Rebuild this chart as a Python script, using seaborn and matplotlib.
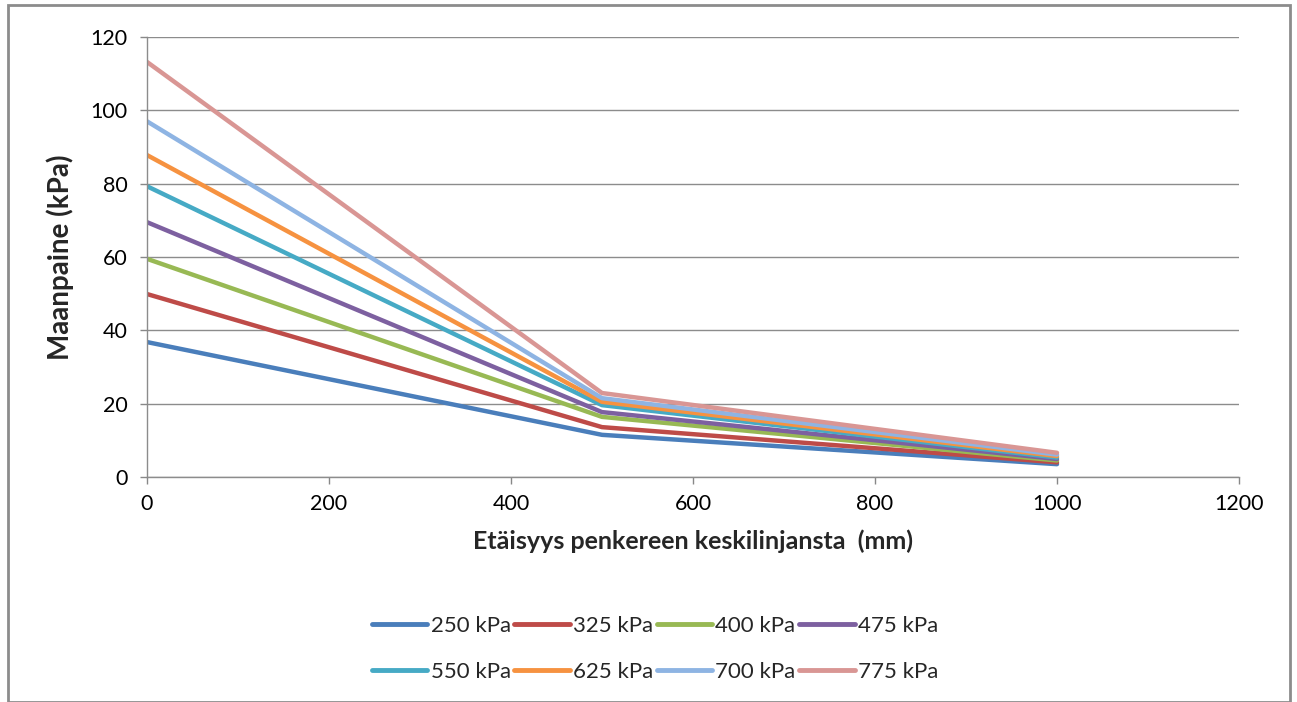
import matplotlib
matplotlib.use("Agg")
import matplotlib.pyplot as plt
import seaborn as sns
import pandas as pd
from matplotlib.patches import Rectangle

distance_mm = [0, 500, 1000]
series_labels = ["250 kPa", "325 kPa", "400 kPa", "475 kPa",
                 "550 kPa", "625 kPa", "700 kPa", "775 kPa"]
p250 = [36.8, 11.5, 3.5]
p325 = [49.9, 13.6, 4.0]
p400 = [59.5, 16.4, 4.5]
p475 = [69.5, 17.7, 4.9]
p550 = [79.3, 19.6, 5.3]
p625 = [87.8, 20.5, 5.7]
p700 = [97.0, 21.5, 6.1]
p775 = [113.2, 22.9, 6.6]
series_values = [p250, p325, p400, p475, p550, p625, p700, p775]
colors = ["#4A7EBB", "#BE4B48", "#98B954", "#7D60A0",
          "#46AAC5", "#F69240", "#8EB4E3", "#D99694"]

rows = []
for lab, vals in zip(series_labels, series_values):
    for x, y in zip(distance_mm, vals):
        rows.append({"x": x, "y": y, "s": lab})
df = pd.DataFrame(rows)

sns.set_theme(style="white")
plt.rcParams['font.family'] = ['Lato', 'DejaVu Sans']

fig = plt.figure(figsize=(12.97, 7.02), dpi=100)
ax = fig.add_axes([147/1297, 1-477/702, (1239-147)/1297, (477-37)/702])

sns.lineplot(data=df, x="x", y="y", hue="s", hue_order=series_labels,
             palette=colors, linewidth=3.2, ax=ax, legend=False)

ax.set_xlim(0, 1200)
ax.set_ylim(0, 120)
ax.set_xticks(range(0, 1201, 200))
ax.set_yticks(range(0, 121, 20))
ax.tick_params(axis='both', labelsize=15.5, colors='#000000', length=5,
               width=1, direction='out', bottom=True, left=True)
ax.tick_params(axis='x', color='#888888', pad=7)
ax.tick_params(axis='y', color='#888888', pad=9)
ax.yaxis.grid(True, color='#8c8c8c', linewidth=1)
ax.xaxis.grid(False)
for side in ['top', 'right']:
    ax.spines[side].set_visible(False)
for side in ['left', 'bottom']:
    ax.spines[side].set_color('#8c8c8c')
    ax.spines[side].set_linewidth(1)

ax.set_xlabel("Etäisyys penkereen keskilinjansta  (mm)", fontsize=18,
              fontweight='bold', labelpad=11)
ax.set_ylabel("Maanpaine (kPa)", fontsize=20, fontweight='bold', labelpad=12)

# row-major legend order for a 4-column legend (matplotlib fills column-wise)
order = [0, 4, 1, 5, 2, 6, 3, 7]
handles = [plt.Line2D([0], [0], color=colors[i], linewidth=3.5) for i in order]
labels = [series_labels[i] for i in order]
fig.legend(handles, labels, loc='center', ncol=4,
           bbox_to_anchor=(655/1297, 1-649/702), frameon=False,
           fontsize=16, handlelength=2.5, handletextpad=0.15,
           columnspacing=0.15, labelspacing=1.15)

fig.patches.append(Rectangle((8/1297, 0), (1290-8)/1297, 1-5/702,
                             transform=fig.transFigure, fill=False,
                             edgecolor='#8c8c8c', linewidth=2))

fig.savefig("out.png", dpi=100, facecolor='white')
